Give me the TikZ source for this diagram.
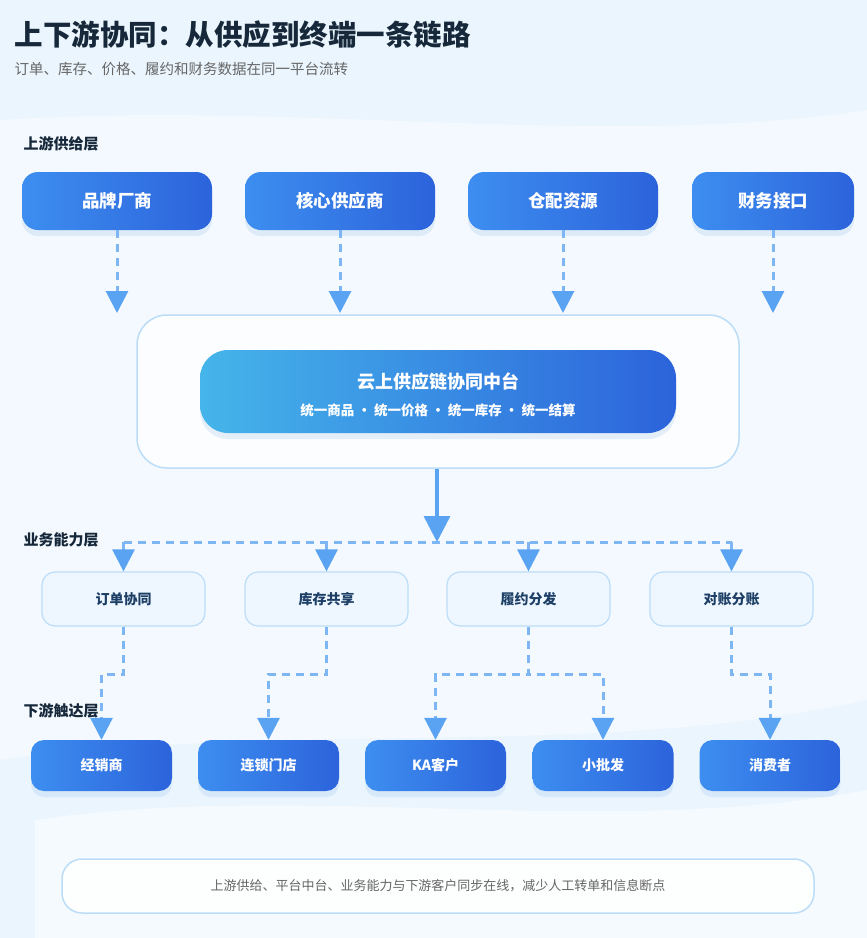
\documentclass[tikz,border=0pt]{standalone}
\usepackage{fontspec}
\setmainfont{Noto Sans CJK SC}
\usetikzlibrary{arrows.meta}
\definecolor{bgA}{HTML}{EAF5FD}
\definecolor{bgB}{HTML}{F3F9FE}
\definecolor{blueL}{HTML}{3D8EF0}
\definecolor{blueR}{HTML}{2C63DB}
\definecolor{cyanL}{HTML}{45B5EA}
\definecolor{dash}{HTML}{7DB6F3}
\definecolor{head}{HTML}{5AA3F2}
\definecolor{title}{HTML}{16283A}
\definecolor{midfill}{HTML}{EEF7FF}
\definecolor{midline}{HTML}{BCDDF8}
\definecolor{midtext}{HTML}{1D3F66}
\definecolor{shad}{HTML}{9CC3EE}
\begin{document}
\begin{tikzpicture}[x=1pt,y=-1pt,
  sh/.style={preaction={fill=shad,opacity=0.25,transform canvas={yshift=-6pt}}},
  blue/.style={rounded corners=16pt,left color=blueL,right color=blueR,draw=none,text=white,font=\bfseries,sh},
  top/.style={blue,minimum width=190pt,minimum height=58pt,font=\fontsize{17.5}{20}\selectfont\bfseries},
  bot/.style={blue,rounded corners=13pt,minimum width=141pt,minimum height=51pt,font=\fontsize{14}{16}\selectfont\bfseries},
  mid/.style={rounded corners=13pt,fill=midfill,draw=midline,line width=1.2pt,minimum width=163pt,minimum height=54pt,text=midtext,font=\fontsize{14}{16}\selectfont\bfseries},
  layer/.style={anchor=west,text=title,font=\fontsize{15}{17}\selectfont\bfseries},
  dl/.style={draw=dash,line width=3pt,dash pattern=on 8pt off 6pt},
  da/.style={dl,-{Triangle[width=22pt,length=22pt,color=head]}},
]
\useasboundingbox (0,0) rectangle (867,938);
\fill[bgA] (0,0) rectangle (867,938);
\fill[bgB] (0,120) .. controls (300,100) and (600,150) .. (867,110) -- (867,700) .. controls (600,760) and (300,720) .. (0,760) -- cycle;
\fill[white,opacity=0.5] (35,820) .. controls (300,780) and (600,840) .. (867,790) -- (867,938) -- (35,938) -- cycle;
\node[anchor=west,text=title,font=\fontsize{28.5}{32}\selectfont\bfseries] (t) at (11,35) {上下游协同：从供应到终端一条链路};
\node[anchor=west,text=gray!80!black,font=\fontsize{14.5}{16}\selectfont] (st) at (11,69) {订单、库存、价格、履约和财务数据在同一平台流转};
\node[layer] (l1) at (20,144) {上游供给层};
\node[layer] (l2) at (20,540) {业务能力层};
\node[layer] (l3) at (20,711) {下游触达层};
\node[top] (a1) at (117,201) {品牌厂商};
\node[top] (a2) at (340,201) {核心供应商};
\node[top] (a3) at (563,201) {仓配资源};
\node[top,minimum width=162pt] (a4) at (773,201) {财务接口};
\node[rounded corners=30pt,fill=white,fill opacity=0.75,text opacity=1,draw=midline,line width=1.5pt,minimum width=602pt,minimum height=153pt] (box) at (438,391.5) {};
\node[rounded corners=28pt,left color=cyanL,right color=blueR,minimum width=476pt,minimum height=83pt,sh] (core) at (438,391.5) {};
\node[text=white,font=\fontsize{18}{20}\selectfont\bfseries] (c1) at (438,382) {云上供应链协同中台};
\node[text=white,font=\fontsize{13.5}{15}\selectfont\bfseries] (c2) at (438,410) {统一商品 • 统一价格 • 统一库存 • 统一结算};
\foreach \i/\x in {1/117,2/340,3/563,4/773}{
  \coordinate (e\i) at (\x,313);
  \draw[da] (a\i.south) -- (e\i);
}
\node[mid] (m1) at (123.5,599) {订单协同};
\node[mid] (m2) at (326.5,599) {库存共享};
\node[mid] (m3) at (528.5,599) {履约分发};
\node[mid] (m4) at (731.5,599) {对账分账};
\coordinate (hub) at (437,542);
\draw[draw=head,line width=3.5pt,-{Triangle[width=26pt,length=26pt,color=head]}] (box.south -| hub) -- (hub);
\coordinate (hl) at (123.5,542); \coordinate (hr) at (731.5,542);
\draw[dl] (hl) -- (hr);
\foreach \i in {1,2,3,4}{ \draw[da] (m\i.north |- hub) -- (m\i.north); }
\node[bot] (b1) at (101.5,765.5) {经销商};
\node[bot] (b2) at (268.5,765.5) {连锁门店};
\node[bot] (b3) at (435.5,765.5) {KA客户};
\node[bot] (b4) at (603,765.5) {小批发};
\node[bot] (b5) at (770,765.5) {消费者};
\draw[da] (m1.south) |- (101.5,674) -- (b1.north);
\draw[da] (m2.south) |- (268.5,674) -- (b2.north);
\draw[da] (m3.south) |- (435.5,674) -- (b3.north);
\draw[da] (m3.south) |- (603,674) -- (b4.north);
\draw[da] (m4.south) |- (770,674) -- (b5.north);
\node[rounded corners=20pt,fill=white,fill opacity=0.85,text opacity=1,draw=midline,line width=1.5pt,minimum width=752pt,minimum height=54pt,text=gray!80!black,font=\fontsize{13}{15}\selectfont] (f) at (438,886) {上游供给、平台中台、业务能力与下游客户同步在线，减少人工转单和信息断点};
\end{tikzpicture}
\end{document}
